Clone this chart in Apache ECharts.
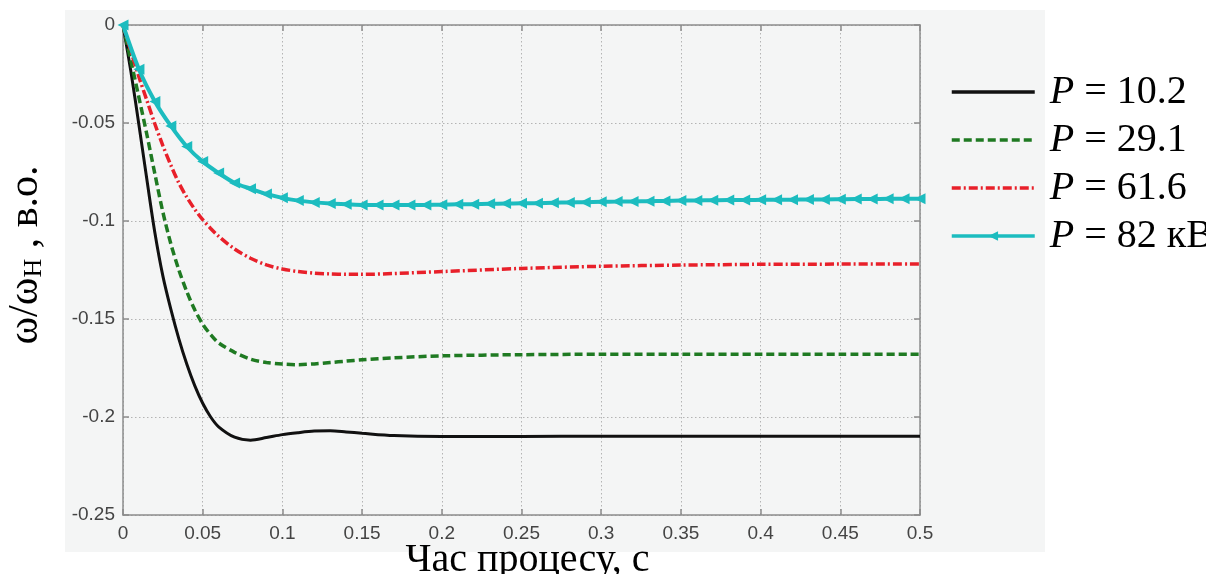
<!DOCTYPE html>
<html>
<head>
<meta charset="utf-8">
<script src="https://cdn.jsdelivr.net/npm/echarts@6/dist/echarts.min.js"></script>
<style>
  html, body { margin: 0; padding: 0; background: #fff; }
  #chart { width: 1206px; height: 574px; }
</style>
</head>
<body>
<div id="chart"></div>
<script>
// time grid (s) for the three smooth curves
var timeGrid = [0, 0.005, 0.01, 0.015, 0.02, 0.025, 0.03, 0.035, 0.04, 0.045, 0.05, 0.055, 0.06, 0.07, 0.08, 0.09,
    0.1, 0.11, 0.12, 0.13, 0.14, 0.15, 0.17, 0.2, 0.25, 0.3, 0.35, 0.4, 0.45, 0.5];
// P = 10.2
var black10 = [0, -0.024, -0.051, -0.079, -0.106, -0.128, -0.145, -0.160, -0.173, -0.184, -0.193, -0.2, -0.205, -0.2103, -0.2118, -0.2105,
    -0.209, -0.208, -0.2072, -0.207, -0.2076, -0.2083, -0.2095, -0.21, -0.2099, -0.2098, -0.2098, -0.2098, -0.2098, -0.2098];
// P = 29.1
var green29 = [0, -0.0185, -0.037, -0.056, -0.076, -0.0954, -0.1116, -0.1249, -0.136, -0.1453, -0.1526, -0.158, -0.1622, -0.167, -0.1705, -0.1722,
    -0.173, -0.1733, -0.1729, -0.1722, -0.1715, -0.1708, -0.1698, -0.1688, -0.1682, -0.168, -0.168, -0.168, -0.168, -0.168];
// P = 61.6
var red61 = [0, -0.0135, -0.0265, -0.0385, -0.0505, -0.0615, -0.0715, -0.0805, -0.0878, -0.094, -0.0993, -0.1038, -0.1078, -0.1143, -0.119, -0.1224,
    -0.1245, -0.1258, -0.1266, -0.127, -0.1272, -0.1272, -0.1268, -0.1258, -0.1242, -0.1231, -0.1225, -0.1221, -0.122, -0.122];
// P = 82 (markers every 0.01 s)
var timeMarkers = [];
for (var i = 0; i <= 50; i++) timeMarkers.push(+(i * 0.01).toFixed(2));
var cyan82 = [0, -0.0226, -0.039, -0.0515, -0.062, -0.0697, -0.0755, -0.0806, -0.0835, -0.0862,
    -0.0882, -0.0896, -0.0905, -0.0911, -0.0915, -0.0918, -0.0919, -0.0919, -0.0919, -0.0918,
    -0.0917, -0.0915, -0.0914, -0.0912, -0.0911, -0.091, -0.0909, -0.0907, -0.0905, -0.0904,
    -0.0902, -0.0901, -0.09, -0.0899, -0.0898, -0.0896, -0.0895, -0.0894, -0.0893, -0.0893,
    -0.0892, -0.0891, -0.0891, -0.089, -0.089, -0.0889, -0.0888, -0.0888, -0.0887, -0.0887, -0.0886];
var seriesNames = ['P = 10.2', 'P = 29.1', 'P = 61.6', 'P = 82 кВт'];
var xTicks = { min: 0, max: 0.5, interval: 0.05 };
var yTicks = { min: -0.25, max: 0, interval: 0.05 };

function pairs(xs, ys) {
    return xs.map(function (x, k) { return [x, ys[k]]; });
}

var chart = echarts.init(document.getElementById('chart'));
var labelFont = { fontFamily: 'Liberation Sans', fontSize: 19, color: '#444' };
var serif = 'Liberation Serif';
var axisLineStyle = { color: '#8c8c8c', width: 1.5 };
var gridLine = { show: true, lineStyle: { color: '#b4b4b4', type: [1.5, 2.5], width: 1 } };

var option = {
    animation: false,
    graphic: [{
        type: 'rect', z: -100, silent: true,
        shape: { x: 65, y: 10, width: 980, height: 542 },
        style: { fill: '#f4f5f5' }
    }],
    grid: {
        left: 123, top: 25, right: 286, bottom: 59,
        outerBoundsMode: 'none', containLabel: false,
        show: true, backgroundColor: '#f4f5f5', borderWidth: 0
    },
    legend: {
        orient: 'vertical',
        left: 945, top: 67,
        itemWidth: 83, itemHeight: 12, itemGap: 8,
        lineStyle: { width: 3.5 },
        data: seriesNames.map(function (n, k) {
            // no marker in the key except for the 82 kW line
            return k < 3 ? { name: n, itemStyle: { opacity: 0 } } : { name: n };
        }),
        formatter: function (name) { return '{i|P}' + name.slice(1); },
        textStyle: {
            fontFamily: serif, fontSize: 40, lineHeight: 40, color: '#000',
            padding: [0, 0, 0, 10],
            rich: { i: { fontFamily: serif, fontSize: 40, fontStyle: 'italic', color: '#000' } }
        }
    },
    xAxis: [{
        type: 'value', min: xTicks.min, max: xTicks.max, interval: xTicks.interval,
        name: 'Час процесу, с', nameLocation: 'middle', nameGap: 25, nameMoveOverlap: false,
        nameTextStyle: { fontFamily: serif, fontSize: 40, color: '#000', padding: [0, 0, 0, 12] },
        axisLine: { onZero: false, lineStyle: axisLineStyle },
        axisTick: { inside: true, length: 6, lineStyle: axisLineStyle },
        axisLabel: Object.assign({ margin: 9 }, labelFont),
        splitLine: gridLine
    }, {
        type: 'value', position: 'top', min: xTicks.min, max: xTicks.max, interval: xTicks.interval,
        axisLine: { onZero: false, lineStyle: axisLineStyle },
        axisTick: { inside: true, length: 6, lineStyle: axisLineStyle },
        axisLabel: { show: false }, splitLine: { show: false }
    }],
    yAxis: [{
        type: 'value', min: yTicks.min, max: yTicks.max, interval: yTicks.interval,
        name: '{a|ω/ω}{s|Н}{a| , в.о.}', nameLocation: 'middle', nameGap: 76, nameRotate: 90,
        nameMoveOverlap: false,
        nameTextStyle: {
            padding: [0, 0, 0, 30],
            rich: {
                a: { fontFamily: serif, fontSize: 42, color: '#000' },
                s: { fontFamily: serif, fontSize: 26, color: '#000', verticalAlign: 'bottom', padding: [10, 0, 0, 0] }
            }
        },
        axisLine: { onZero: false, lineStyle: axisLineStyle },
        axisTick: { inside: true, length: 6, lineStyle: axisLineStyle },
        axisLabel: Object.assign({ margin: 8 }, labelFont),
        splitLine: gridLine
    }, {
        type: 'value', position: 'right', min: yTicks.min, max: yTicks.max, interval: yTicks.interval,
        axisLine: { onZero: false, lineStyle: axisLineStyle },
        axisTick: { inside: true, length: 6, lineStyle: axisLineStyle },
        axisLabel: { show: false }, splitLine: { show: false }
    }],
    series: [{
        name: seriesNames[0], type: 'line', smooth: 0.3, symbol: 'none',
        lineStyle: { color: '#111', width: 3 }, itemStyle: { color: '#111' },
        data: pairs(timeGrid, black10)
    }, {
        name: seriesNames[1], type: 'line', smooth: 0.3, symbol: 'none',
        lineStyle: { color: '#1f7a22', width: 3.5, type: [8, 4] }, itemStyle: { color: '#1f7a22' },
        data: pairs(timeGrid, green29)
    }, {
        name: seriesNames[2], type: 'line', smooth: 0.3, symbol: 'none',
        lineStyle: { color: '#e8202a', width: 3.5, type: [9, 3, 2, 3] }, itemStyle: { color: '#e8202a' },
        data: pairs(timeGrid, red61)
    }, {
        name: seriesNames[3], type: 'line', smooth: 0.3,
        symbol: 'triangle', symbolSize: 11, symbolRotate: 90,
        lineStyle: { color: '#1cbcbf', width: 4 }, itemStyle: { color: '#1cbcbf' },
        data: pairs(timeMarkers, cyan82)
    }]
};
chart.setOption(option);
</script>
</body>
</html>
